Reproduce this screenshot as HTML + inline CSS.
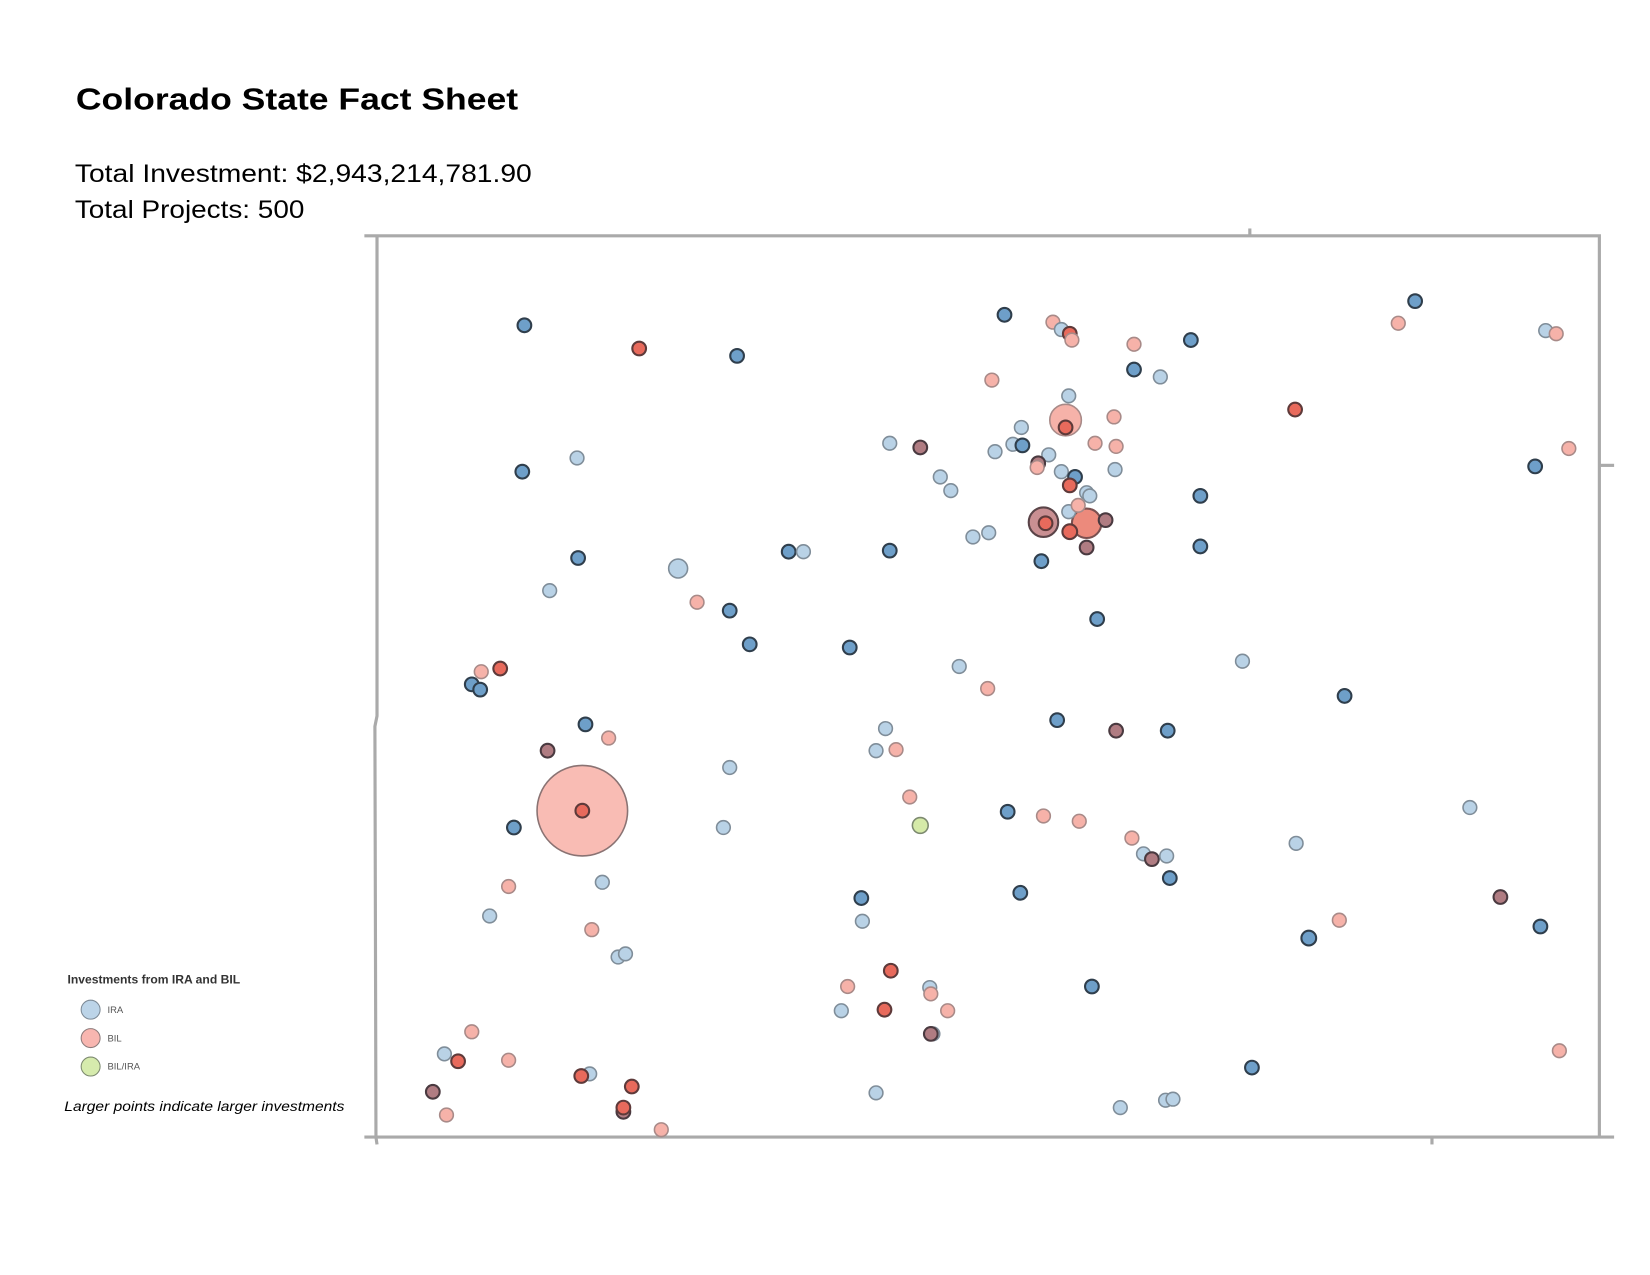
<!DOCTYPE html>
<html><head><meta charset="utf-8"><style>
html,body{margin:0;padding:0;background:#fff;}
svg{display:block;}
.lb{fill:#b9d2e6;stroke:#7f8d99;stroke-width:1.5}
.db{fill:#6e9fc9;stroke:#2f3e4c;stroke-width:2}
.lr{fill:#f6b2a9;stroke:#a88a88;stroke-width:1.5}
.r{fill:#e86a5c;stroke:#5e3a3a;stroke-width:2}
.m{fill:#b07c82;stroke:#4a3a40;stroke-width:2}
.g{fill:#d5eaa8;stroke:#7d8a70;stroke-width:1.5}
</style></head><body>
<svg width="1650" height="1275" viewBox="0 0 1567 1211" xmlns="http://www.w3.org/2000/svg">
<rect width="1567" height="1211" fill="#fff"/>
<text x="72" y="104" font-family="Liberation Sans, sans-serif" font-weight="bold" font-size="29" fill="#000" textLength="420" lengthAdjust="spacingAndGlyphs">Colorado State Fact Sheet</text>
<text x="71" y="173" font-family="Liberation Sans, sans-serif" font-size="23.5" fill="#000" textLength="434" lengthAdjust="spacingAndGlyphs">Total Investment: $2,943,214,781.90</text>
<text x="71" y="207" font-family="Liberation Sans, sans-serif" font-size="23.5" fill="#000" textLength="218" lengthAdjust="spacingAndGlyphs">Total Projects: 500</text>
<g fill="none" stroke="#aaa" stroke-width="3">
<path d="M346,224 L1519,224 L1519,1080"/>
<path d="M1187,217 L1187,224"/>
<path d="M1519,442 L1533,442"/>
<path d="M346,1080 L1533,1080"/>
<path d="M358,224 L358,680 L356,690 L357,1080 L358,1087"/>
<path d="M1360,1080 L1360,1087"/>
</g>
<g>
<circle cx="553" cy="770" r="43" fill="#f9bcb4" stroke="#8a7373" stroke-width="1.5"/>
<circle cx="1012" cy="399" r="15" class="lr"/>
<circle cx="991" cy="496" r="14" fill="#c98f92" stroke="#5a4448" stroke-width="2"/>
<circle cx="1032" cy="497" r="14" fill="#ec8a7c" stroke="#7a5050" stroke-width="2"/>
<circle cx="644" cy="540" r="9" class="lb"/>
</g>
<g>
<circle cx="498" cy="309" r="6.5" class="db"/><circle cx="607" cy="331" r="6.5" class="r"/><circle cx="700" cy="338" r="6.5" class="db"/>
<circle cx="954" cy="299" r="6.5" class="db"/><circle cx="1000" cy="306" r="6.5" class="lr"/><circle cx="1008" cy="313" r="6.5" class="lb"/>
<circle cx="1016" cy="317" r="6.5" class="r"/><circle cx="1018" cy="323" r="6.5" class="lr"/><circle cx="1077" cy="327" r="6.5" class="lr"/>
<circle cx="1131" cy="323" r="6.5" class="db"/><circle cx="1344" cy="286" r="6.5" class="db"/><circle cx="1328" cy="307" r="6.5" class="lr"/>
<circle cx="1468" cy="314" r="6.5" class="lb"/><circle cx="1478" cy="317" r="6.5" class="lr"/><circle cx="1077" cy="351" r="6.5" class="db"/>
<circle cx="1102" cy="358" r="6.5" class="lb"/><circle cx="942" cy="361" r="6.5" class="lr"/><circle cx="1230" cy="389" r="6.5" class="r"/>
<circle cx="1015" cy="376" r="6.5" class="lb"/><circle cx="1012" cy="406" r="6.5" class="r"/><circle cx="1058" cy="396" r="6.5" class="lr"/>
<circle cx="970" cy="406" r="6.5" class="lb"/><circle cx="1040" cy="421" r="6.5" class="lr"/><circle cx="1060" cy="424" r="6.5" class="lr"/>
<circle cx="845" cy="421" r="6.5" class="lb"/><circle cx="874" cy="425" r="6.5" class="m"/><circle cx="945" cy="429" r="6.5" class="lb"/>
<circle cx="962" cy="422" r="6.5" class="lb"/><circle cx="971" cy="423" r="6.5" class="db"/><circle cx="996" cy="432" r="6.5" class="lb"/>
<circle cx="986" cy="440" r="6.5" class="m"/><circle cx="985" cy="444" r="6.5" class="lr"/><circle cx="1008" cy="448" r="6.5" class="lb"/>
<circle cx="1021" cy="453" r="6.5" class="db"/><circle cx="1059" cy="446" r="6.5" class="lb"/><circle cx="548" cy="435" r="6.5" class="lb"/>
<circle cx="496" cy="448" r="6.5" class="db"/><circle cx="1458" cy="443" r="6.5" class="db"/><circle cx="1490" cy="426" r="6.5" class="lr"/>
<circle cx="893" cy="453" r="6.5" class="lb"/><circle cx="903" cy="466" r="6.5" class="lb"/><circle cx="1016" cy="461" r="6.5" class="r"/>
<circle cx="1032" cy="468" r="6.5" class="lb"/><circle cx="1035" cy="471" r="6.5" class="lb"/><circle cx="1140" cy="471" r="6.5" class="db"/>
<circle cx="993" cy="497" r="6.5" class="r"/><circle cx="1015" cy="486" r="6.5" class="lb"/><circle cx="1024" cy="480" r="6.5" class="lr"/>
<circle cx="1016" cy="505" r="7" class="r"/><circle cx="1050" cy="494" r="6.5" class="m"/><circle cx="1032" cy="520" r="6.5" class="m"/>
<circle cx="924" cy="510" r="6.5" class="lb"/><circle cx="939" cy="506" r="6.5" class="lb"/><circle cx="1140" cy="519" r="6.5" class="db"/>
<circle cx="989" cy="533" r="6.5" class="db"/><circle cx="549" cy="530" r="6.5" class="db"/><circle cx="749" cy="524" r="6.5" class="db"/>
<circle cx="763" cy="524" r="6.5" class="lb"/><circle cx="845" cy="523" r="6.5" class="db"/><circle cx="522" cy="561" r="6.5" class="lb"/>
<circle cx="662" cy="572" r="6.5" class="lr"/><circle cx="693" cy="580" r="6.5" class="db"/><circle cx="1042" cy="588" r="6.5" class="db"/>
<circle cx="712" cy="612" r="6.5" class="db"/><circle cx="807" cy="615" r="6.5" class="db"/><circle cx="1180" cy="628" r="6.5" class="lb"/>
<circle cx="911" cy="633" r="6.5" class="lb"/><circle cx="938" cy="654" r="6.5" class="lr"/><circle cx="457" cy="638" r="6.5" class="lr"/>
<circle cx="475" cy="635" r="6.5" class="r"/><circle cx="448" cy="650" r="6.5" class="db"/><circle cx="456" cy="655" r="6.5" class="db"/>
<circle cx="1277" cy="661" r="6.5" class="db"/><circle cx="1004" cy="684" r="6.5" class="db"/><circle cx="1060" cy="694" r="6.5" class="m"/>
<circle cx="1109" cy="694" r="6.5" class="db"/><circle cx="556" cy="688" r="6.5" class="db"/><circle cx="578" cy="701" r="6.5" class="lr"/>
<circle cx="520" cy="713" r="6.5" class="m"/><circle cx="841" cy="692" r="6.5" class="lb"/><circle cx="832" cy="713" r="6.5" class="lb"/>
<circle cx="851" cy="712" r="6.5" class="lr"/><circle cx="693" cy="729" r="6.5" class="lb"/><circle cx="553" cy="770" r="6.5" class="r"/>
<circle cx="864" cy="757" r="6.5" class="lr"/><circle cx="488" cy="786" r="6.5" class="db"/><circle cx="687" cy="786" r="6.5" class="lb"/>
<circle cx="874" cy="784" r="7.5" class="g"/><circle cx="957" cy="771" r="6.5" class="db"/><circle cx="991" cy="775" r="6.5" class="lr"/>
<circle cx="1025" cy="780" r="6.5" class="lr"/><circle cx="1396" cy="767" r="6.5" class="lb"/><circle cx="1075" cy="796" r="6.5" class="lr"/>
<circle cx="1086" cy="811" r="6.5" class="lb"/><circle cx="1094" cy="816" r="6.5" class="m"/><circle cx="1108" cy="813" r="6.5" class="lb"/>
<circle cx="1231" cy="801" r="6.5" class="lb"/><circle cx="1111" cy="834" r="6.5" class="db"/><circle cx="572" cy="838" r="6.5" class="lb"/>
<circle cx="483" cy="842" r="6.5" class="lr"/><circle cx="969" cy="848" r="6.5" class="db"/><circle cx="818" cy="853" r="6.5" class="db"/>
<circle cx="1425" cy="852" r="6.5" class="m"/><circle cx="819" cy="875" r="6.5" class="lb"/><circle cx="465" cy="870" r="6.5" class="lb"/>
<circle cx="1272" cy="874" r="6.5" class="lr"/><circle cx="1463" cy="880" r="6.5" class="db"/><circle cx="562" cy="883" r="6.5" class="lr"/>
<circle cx="1243" cy="891" r="7" class="db"/><circle cx="587" cy="909" r="6.5" class="lb"/><circle cx="594" cy="906" r="6.5" class="lb"/>
<circle cx="846" cy="922" r="6.5" class="r"/><circle cx="883" cy="938" r="6.5" class="lb"/><circle cx="884" cy="944" r="6.5" class="lr"/>
<circle cx="805" cy="937" r="6.5" class="lr"/><circle cx="1037" cy="937" r="6.5" class="db"/><circle cx="840" cy="959" r="6.5" class="r"/>
<circle cx="799" cy="960" r="6.5" class="lb"/><circle cx="900" cy="960" r="6.5" class="lr"/><circle cx="886" cy="982" r="6.5" class="lb"/>
<circle cx="884" cy="982" r="6.5" class="m"/><circle cx="448" cy="980" r="6.5" class="lr"/><circle cx="422" cy="1001" r="6.5" class="lb"/>
<circle cx="435" cy="1008" r="6.5" class="r"/><circle cx="483" cy="1007" r="6.5" class="lr"/><circle cx="1481" cy="998" r="6.5" class="lr"/>
<circle cx="560" cy="1020" r="6.5" class="lb"/><circle cx="552" cy="1022" r="6.5" class="r"/><circle cx="600" cy="1032" r="6.5" class="r"/>
<circle cx="1189" cy="1014" r="6.5" class="db"/><circle cx="411" cy="1037" r="6.5" class="m"/><circle cx="832" cy="1038" r="6.5" class="lb"/>
<circle cx="1107" cy="1045" r="6.5" class="lb"/><circle cx="1114" cy="1044" r="6.5" class="lb"/><circle cx="1064" cy="1052" r="6.5" class="lb"/>
<circle cx="592" cy="1056" r="6.5" class="m"/><circle cx="592" cy="1052" r="6.5" class="r"/><circle cx="424" cy="1059" r="6.5" class="lr"/>
<circle cx="628" cy="1073" r="6.5" class="lr"/>
</g>
<text x="64" y="934" font-family="Liberation Sans, sans-serif" font-weight="bold" font-size="11" fill="#333" textLength="164" lengthAdjust="spacingAndGlyphs">Investments from IRA and BIL</text>
<circle cx="86" cy="959" r="9" fill="#bcd4e8" stroke="#7d8a96" stroke-width="1"/>
<circle cx="86" cy="986" r="9" fill="#f8b6b0" stroke="#8d7b7b" stroke-width="1"/>
<circle cx="86" cy="1013" r="9" fill="#d6ebad" stroke="#7d8a70" stroke-width="1"/>
<text x="102" y="962" font-family="Liberation Sans, sans-serif" font-size="9" fill="#555">IRA</text>
<text x="102" y="989" font-family="Liberation Sans, sans-serif" font-size="9" fill="#555">BIL</text>
<text x="102" y="1016" font-family="Liberation Sans, sans-serif" font-size="9" fill="#555">BIL/IRA</text>
<text x="61" y="1055" font-family="Liberation Sans, sans-serif" font-style="italic" font-size="13" fill="#000" textLength="266" lengthAdjust="spacingAndGlyphs">Larger points indicate larger investments</text>
</svg>
</body></html>
